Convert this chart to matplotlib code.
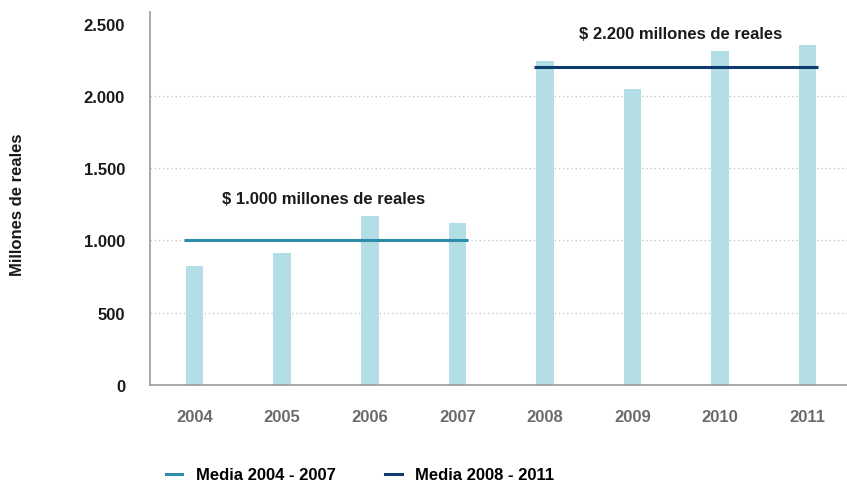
import matplotlib
matplotlib.use("Agg")
import matplotlib.pyplot as plt
from matplotlib.lines import Line2D
import numpy as np

plt.rcParams['font.family'] = ['Liberation Sans Narrow', 'Liberation Sans', 'DejaVu Sans']
plt.rcParams['font.weight'] = 'bold'

years = ["2004", "2005", "2006", "2007", "2008", "2009", "2010", "2011"]
values = [820, 910, 1170, 1120, 2240, 2050, 2310, 2350]
mean_first = 1000
mean_second = 2200
first_label = "$ 1.000 millones de reales"
second_label = "$ 2.200 millones de reales"
legend_labels = ["Media 2004 - 2007", "Media 2008 - 2011"]
yticks = [0, 500, 1000, 1500, 2000, 2500]
ytick_labels = ["0", "500", "1.000", "1.500", "2.000", "2.500"]

bar_color = "#b3dee6"
teal = "#2b8daa"
navy = "#0e3c6e"

fig = plt.figure(figsize=(8.47, 4.85), dpi=100)
ax = fig.add_axes([150 / 847, 1 - 386 / 485, 1 - 150 / 847, (386 - 13) / 485])

x = np.arange(len(years))
width = 0.2
ax.bar(x, values, width=width, color=bar_color, zorder=2)

ax.set_xlim(-0.51, 7.45)
ax.set_ylim(0, 2580)

ax.set_yticks(yticks)
ax.set_yticklabels(ytick_labels, fontsize=12, fontweight='bold', color="#1a1a1a")
ax.set_xticks(x)
ax.set_xticklabels(years, fontsize=12, fontweight='bold', color="#6b6b6b")
ax.tick_params(axis='both', length=0)
ax.tick_params(axis='y', pad=18)
ax.tick_params(axis='x', pad=17)

for v in yticks[1:-1]:
    ax.axhline(v, color="#c8c8c8", linestyle=(0, (1, 2)), linewidth=1, zorder=1)

for side in ("top", "right"):
    ax.spines[side].set_visible(False)
ax.spines["left"].set_color("#9a9a9a")
ax.spines["bottom"].set_color("#9a9a9a")
ax.spines["left"].set_linewidth(1.2)
ax.spines["bottom"].set_linewidth(1.2)

pad = 0.12
ax.hlines(mean_first, x[0] - pad, x[3] + pad, color=teal, linewidth=2.2, zorder=3)
ax.hlines(mean_second, x[4] - pad, x[7] + pad, color=navy, linewidth=2.2, zorder=3)

ax.text((x[0] + x[3]) / 2 - 0.03, mean_first + 290, first_label, ha='center', va='center',
        fontsize=12, fontweight='bold', color="#1a1a1a")
ax.text((x[4] + x[7]) / 2 + 0.05, mean_second + 230, second_label, ha='center', va='center',
        fontsize=12, fontweight='bold', color="#1a1a1a")

fig.text(18 / 847, 1 - 205 / 485, "Millones de reales", rotation=90, ha='center', va='center',
         fontsize=12, fontweight='bold', color="#1a1a1a")

handles = [Line2D([0], [0], color=teal, linewidth=2.2),
           Line2D([0], [0], color=navy, linewidth=2.2)]
fig.legend(handles, legend_labels, loc='center', bbox_to_anchor=(360 / 847, 1 - 476 / 485),
           ncol=2, frameon=False, fontsize=12, handlelength=1.0, columnspacing=3.0,
           handletextpad=0.8)

fig.savefig("out.png", dpi=100)
